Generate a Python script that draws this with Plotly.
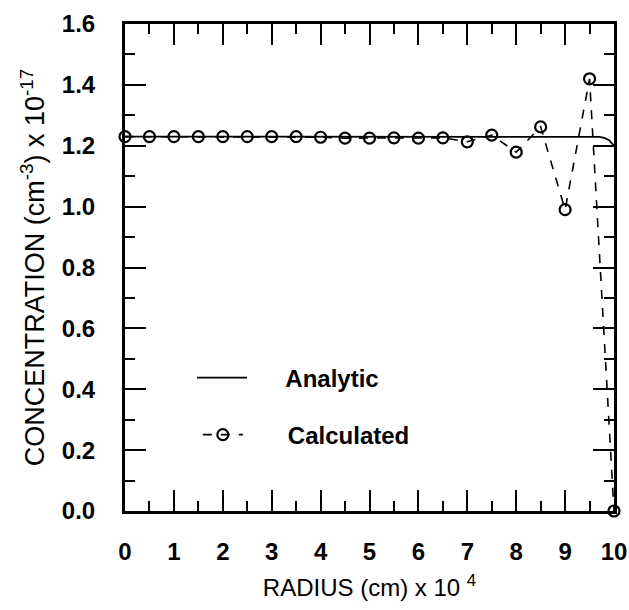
import plotly.graph_objects as go

# Analytic solution
analytic_x = [0, 1, 2, 3, 4, 5, 6, 7, 8, 9, 9.5, 9.6, 9.7, 9.8, 9.9, 10]
analytic_y = [1.23, 1.23, 1.23, 1.23, 1.23, 1.23, 1.23, 1.23, 1.23, 1.23, 1.23, 1.23, 1.229, 1.226, 1.218, 1.20]

# Calculated solution
calc_x = [0, 0.5, 1, 1.5, 2, 2.5, 3, 3.5, 4, 4.5, 5, 5.5, 6, 6.5, 7, 7.5, 8, 8.5, 9, 9.5, 10]
calc_y = [1.23, 1.23, 1.23, 1.23, 1.23, 1.23, 1.23, 1.23, 1.228, 1.225, 1.225, 1.226, 1.225, 1.226, 1.213, 1.235, 1.179, 1.262, 0.99, 1.42, 0.0]

x_ticks = [0, 1, 2, 3, 4, 5, 6, 7, 8, 9, 10]
y_ticks = [0.0, 0.2, 0.4, 0.6, 0.8, 1.0, 1.2, 1.4, 1.6]
y_tick_text = ["0.0", "0.2", "0.4", "0.6", "0.8", "1.0", "1.2", "1.4", "1.6"]

FONT = "Liberation Sans, Arial, sans-serif"
NB = "\u00a0"

fig = go.Figure()
fig.add_trace(go.Scatter(
    x=analytic_x, y=analytic_y, mode="lines", name=NB * 5 + "Analytic",
    line=dict(color="black", width=1.8), legend="legend", cliponaxis=False,
))
fig.add_trace(go.Scatter(
    x=calc_x, y=calc_y, mode="lines+markers", name=NB * 6 + "Calculated",
    line=dict(color="black", width=1.6, dash="9px,9px"),
    marker=dict(symbol="circle-open", size=11, color="black", line=dict(width=2.2, color="black")),
    legend="legend2", cliponaxis=False,
))

axis_common = dict(
    showline=True, linecolor="black", linewidth=3, mirror="allticks",
    ticks="inside", ticklen=21, tickwidth=2, tickcolor="black",
    showgrid=False, zeroline=False, automargin=False, ticklabeloverflow="allow",
    tickfont=dict(family=FONT, size=24, color="black", weight="bold"),
)

fig.update_xaxes(
    range=[0, 10], tickvals=x_ticks, ticktext=[str(v) for v in x_ticks],
    minor=dict(ticks="inside", ticklen=10, tickwidth=2, tickcolor="black", dtick=0.5, tick0=0, showgrid=False),
    ticklabelstandoff=17,
    title=dict(text="RADIUS (cm) x 10 <sup>4</sup>", font=dict(family=FONT, size=24, color="black"), standoff=16),
    **axis_common,
)
fig.update_yaxes(
    range=[0, 1.6], tickvals=y_ticks, ticktext=y_tick_text,
    minor=dict(ticks="inside", ticklen=10, tickwidth=2, tickcolor="black", dtick=0.1, tick0=0, showgrid=False),
    ticklabelstandoff=22,
    title=dict(text="CONCENTRATION (cm<sup>-3</sup>) x 10<sup>-17</sup>", font=dict(family=FONT, size=27, color="black"), standoff=10),
    **axis_common,
)

legend_font = dict(family=FONT, size=24, color="black", weight="bold")
fig.update_layout(
    width=629, height=610,
    margin=dict(l=125, r=15, t=24, b=99),
    paper_bgcolor="white", plot_bgcolor="white",
    showlegend=True,
    legend=dict(x=0.137, y=0.273, xanchor="left", yanchor="middle", bgcolor="rgba(0,0,0,0)",
                font=legend_font, itemwidth=50),
    legend2=dict(x=0.149, y=0.156, xanchor="left", yanchor="middle", bgcolor="rgba(0,0,0,0)",
                 font=legend_font, itemwidth=40),
)

fig.write_html(
    "out.html",
    config={"displayModeBar": False},
    post_script="document.body.style.margin='0';document.body.style.overflow='hidden';",
)
